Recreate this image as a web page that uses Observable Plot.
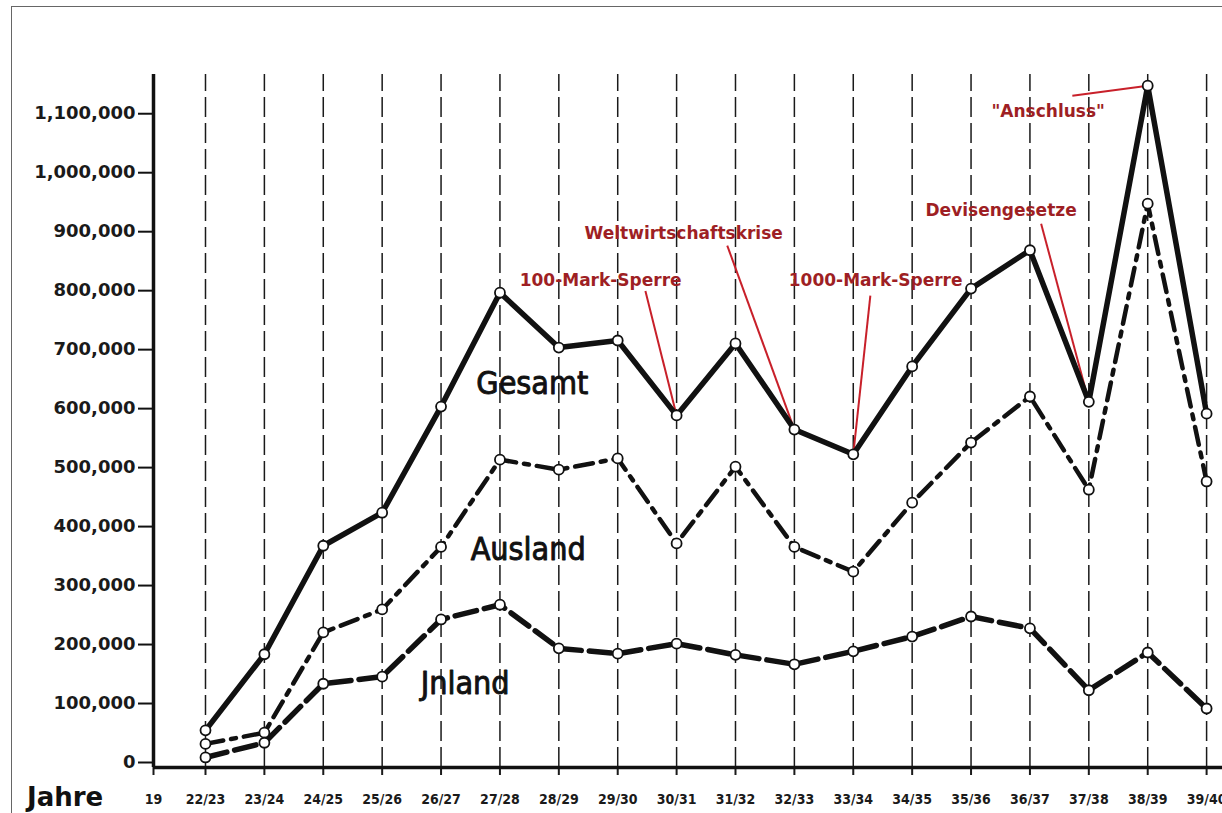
<!DOCTYPE html>
<html><head><meta charset="utf-8">
<script src="https://cdn.jsdelivr.net/npm/d3@7"></script>
<script src="https://cdn.jsdelivr.net/npm/@observablehq/plot@0.6"></script>
<style>
body{margin:0;background:#fff;}
#wrap{position:relative;width:1222px;height:813px;overflow:hidden;background:#fff;}
#frame{position:absolute;left:11px;top:6px;right:-4px;bottom:-4px;border-left:1.5px solid #666;border-top:1.5px solid #666;pointer-events:none;}
</style></head><body>
<div id="wrap"><div id="chart"></div><div id="frame"></div></div>
<script>
// ---- data ----
const years = ["22/23","23/24","24/25","25/26","26/27","27/28","28/29","29/30","30/31","31/32","32/33","33/34","34/35","35/36","36/37","37/38","38/39","39/40"];
const gesamt  = [63000,192000,376000,432000,612000,805000,712000,724000,597000,719000,573000,531000,680000,812000,877000,620000,1156000,600000];
const ausland = [40000,59000,229000,268000,374000,522000,505000,524000,380000,510000,374000,332000,449000,551000,629000,471000,956000,485000];
const inland  = [17000,42000,142000,154000,251000,276000,202000,193000,210000,191000,175000,197000,222000,256000,236000,131000,195000,100000];
const yTicks = [0,100000,200000,300000,400000,500000,600000,700000,800000,900000,1000000,1100000];
const seriesNames = ["Gesamt","Ausland","Jnland"];
const centuryLabel = "19";
const axisTitle = "Jahre";
// label anchors (year index, value)
const seriesLabelPos = [[5.55,650000],[5.48,370000],[4.41,142000]];
const annotLabels  = ["100-Mark-Sperre","Weltwirtschaftskrise","1000-Mark-Sperre","Devisengesetze","\"Anschluss\""];
const annotTarget  = ["30/31","32/33","33/34","37/38","38/39"];
const annotTextPos = [[6.71,826000],[8.12,905000],[11.38,826000],[13.51,944000],[14.31,1113000]];
const annotLineStart = [[7.47,808000],[8.86,885000],[11.29,800000],[14.19,922000],[14.72,1139000]];

// ---- build ----
const idx = y => years.indexOf(y);
const xMin = -0.883, xMax = 17.27, yMax = 1175000;
const rows = [];
[gesamt, ausland, inland].forEach((arr, s) => arr.forEach((v, i) => rows.push({s: seriesNames[s], i, v})));
const bySeries = n => rows.filter(d => d.s === n);
const annots = annotLabels.map((t, k) => {
  const ti = idx(annotTarget[k]);
  return {t, tx: annotTextPos[k][0], ty: annotTextPos[k][1], lx: annotLineStart[k][0], ly: annotLineStart[k][1], ex: ti, ev: gesamt[ti]};
});
const labelFont = "'DejaVu Sans Condensed',sans-serif";
const tickFont = "'DejaVu Sans',sans-serif";

const chart = Plot.plot({
  width: 1222, height: 813,
  marginLeft: 153, marginRight: 0, marginTop: 74, marginBottom: 46,
  style: {background: "transparent"},
  x: {domain: [xMin, xMax], axis: null},
  y: {domain: [0, yMax], axis: null},
  marks: [
    // vertical dashed grid
    Plot.ruleX(years.map((d, i) => i), {y1: 0, y2: yMax, stroke: "#1a1a1a", strokeWidth: 1.5, strokeDasharray: "20,6"}),
    // axes
    Plot.axisY({ticks: yTicks, tickFormat: d3.format(","), tickSize: 15, tickPadding: 3, fontSize: 18, fontWeight: "bold", fontFamily: tickFont, dy: -5, stroke: "#111", strokeWidth: 2, color: "#1a1a1a"}),
    Plot.axisX({ticks: [xMin, ...years.map((d, i) => i)], tickFormat: d => d === xMin ? centuryLabel : years[d], tickSize: 8, tickPadding: 19, fontSize: 14, fontWeight: "bold", fontFamily: "'DejaVu Sans Condensed',sans-serif", strokeWidth: 2, color: "#1a1a1a"}),
    Plot.ruleY([0], {stroke: "#111", strokeWidth: 3.5}),
    Plot.ruleX([xMin], {y1: 0, y2: yMax, stroke: "#111", strokeWidth: 3.5}),
    Plot.text([axisTitle], {x: xMin - 1.5, y: 0, dy: 30, text: d => d, fontSize: 26, fontWeight: "bold", fontFamily: "'DejaVu Sans',sans-serif", fill: "#111"}),
    // annotation leader lines (under the series)
    Plot.link(annots, {x1: "lx", y1: "ly", x2: "ex", y2: "ev", stroke: "#c8202a", strokeWidth: 2}),
    // series
    Plot.line(bySeries("Jnland"), {x: "i", y: "v", stroke: "#111", strokeWidth: 5.5, strokeDasharray: "22,8"}),
    Plot.line(bySeries("Ausland"), {x: "i", y: "v", stroke: "#111", strokeWidth: 4.5, strokeDasharray: "18,8,5,8"}),
    Plot.line(bySeries("Gesamt"), {x: "i", y: "v", stroke: "#111", strokeWidth: 5.5}),
    Plot.dot(rows, {x: "i", y: "v", r: 5, fill: "#fff", stroke: "#111", strokeWidth: 1.8}),
    // series labels
    Plot.text(seriesNames, {x: (d, k) => seriesLabelPos[k][0], y: (d, k) => seriesLabelPos[k][1], text: d => d, fontSize: 32, fontFamily: labelFont, fill: "#111", stroke: "#111", strokeWidth: 0.9}),
    // annotation texts
    Plot.text(annots, {x: "tx", y: "ty", text: "t", fontSize: 17, fontWeight: "bold", fontFamily: "'DejaVu Sans',sans-serif", fill: "#9e1f24"})
  ]
});
document.getElementById("chart").appendChild(chart);
</script>
</body></html>
